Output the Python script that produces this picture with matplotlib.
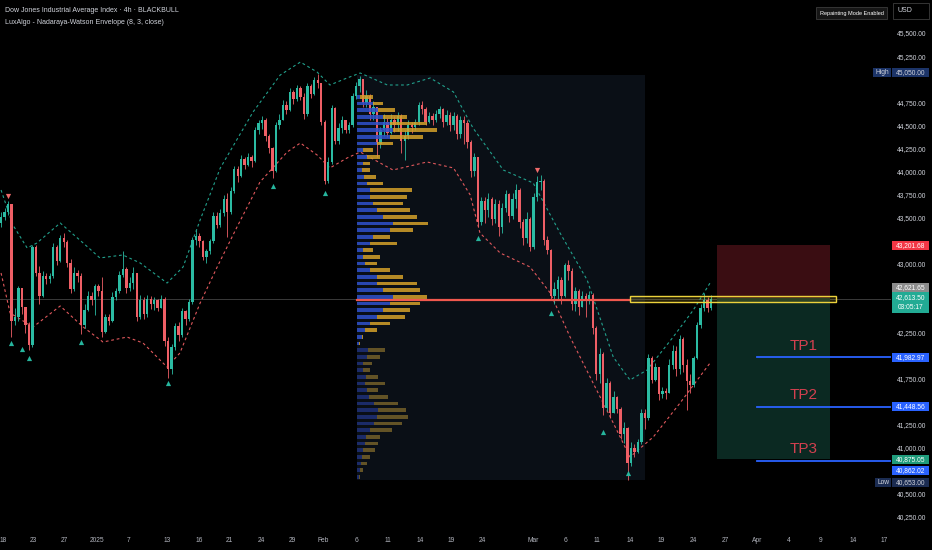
import matplotlib.pyplot as plt
import matplotlib.transforms as mtransforms
from matplotlib.patches import Rectangle

plt.rcParams['font.family'] = ['Liberation Sans', 'DejaVu Sans']

# ---- candles (one bar ~ 1/3 trading day), open = previous close ----
first_open = 43440
closes = [43500, 43560, 43640, 42380, 42420, 42730, 42530, 42330, 42120, 43180,
          42900, 42650, 42860, 42830, 42860, 43180, 43030, 43280, 43230, 43000,
          42720, 42900, 42860, 42330, 42500, 42650, 42600, 42760, 42700, 42260,
          42420, 42380, 42640, 42700, 42880, 42940, 42730, 42790, 42900, 42420,
          42600, 42450, 42620, 42560, 42600, 42520, 42620, 42160, 41850, 42090,
          42320, 42220, 42480, 42400, 42580, 43250, 43300, 43240, 43070, 43130,
          43240, 43520, 43420, 43550, 43700, 43560, 43790, 44020, 43950, 44130,
          44070, 44150, 44110, 44450, 44520, 44560, 44380, 44250, 44000, 44500,
          44560, 44720, 44660, 44860, 44780, 44900, 44810, 44620, 44920, 44840,
          44990, 44960, 44540, 43900, 44100, 44690, 44330, 44470, 44560, 44450,
          44500, 44820, 44920, 45000, 44740, 44820, 44620, 44700, 44300, 44450,
          44540, 44420, 44560, 44500, 44600, 44330, 44380, 44500, 44480, 44530,
          44720, 44680, 44540, 44600, 44560, 44620, 44680, 44540, 44610, 44500,
          44600, 44400, 44560, 44520, 44320, 44000, 44150, 43450, 43680, 43580,
          43700, 43480, 43650, 43400, 43600, 43750, 43520, 43700, 43800, 43450,
          43280, 43480, 43180, 43720, 43880, 43900, 43260, 43150, 42650, 42720,
          42820, 42650, 42980, 42920, 42560, 42700, 42530, 42650, 42590, 42660,
          42300, 41800, 42020, 41430, 41700, 41380, 41550, 41420, 41150, 41220,
          40840, 41000, 40960, 41060, 41380, 41320, 41980, 41740, 41880, 41580,
          41620, 41600, 41900, 42050, 41850, 42180, 41900, 41720, 41680, 41980,
          42330, 42520, 42600, 42520, 42613.5]
highs = [43560, 43600, 43680, 43640, 42520, 42760, 42700, 42480, 42360, 43200,
         43200, 42970, 42920, 42900, 42900, 43220, 43200, 43310, 43330, 43250,
         43050, 42960, 42930, 42900, 42560, 42700, 42690, 42780, 42780, 42850,
         42450, 42450, 42690, 42730, 42920, 43130, 42960, 42850, 42960, 42900,
         42660, 42640, 42660, 42650, 42640, 42620, 42660, 42640, 42200, 42130,
         42350, 42360, 42520, 42500, 42620, 43290, 43360, 43330, 43260, 43160,
         43270, 43560, 43560, 43590, 43740, 43760, 43830, 44060, 44060, 44180,
         44160, 44200, 44180, 44480, 44560, 44600, 44580, 44400, 44260, 44540,
         44620, 44770, 44760, 44900, 44880, 44940, 44920, 44850, 44960, 44950,
         45020, 45050, 44960, 44560, 44150, 44720, 44700, 44520, 44600, 44560,
         44540, 44850, 44970, 45030, 45000, 44880, 44840, 44760, 44620, 44480,
         44620, 44580, 44620, 44600, 44640, 44620, 44450, 44560, 44540, 44570,
         44750, 44760, 44700, 44640, 44630, 44660, 44710, 44690, 44660, 44640,
         44640, 44620, 44600, 44600, 44560, 44340, 44200, 44150, 43720, 43720,
         43760, 43720, 43700, 43690, 43660, 43800, 43760, 43760, 43860, 43820,
         43480, 43560, 43500, 43760, 43950, 43960, 43920, 43300, 43160, 42800,
         42860, 42850, 43010, 43040, 42950, 42740, 42720, 42700, 42680, 42700,
         42680, 42320, 42080, 42040, 41760, 41720, 41620, 41560, 41440, 41280,
         41230, 41060, 41040, 41100, 41420, 41420, 42020, 42000, 41920, 41880,
         41660, 41650, 41960, 42120, 42100, 42220, 42200, 41960, 41800, 42000,
         42360, 42560, 42680, 42640, 42660]
lows = [43400, 43470, 43530, 42200, 42330, 42380, 42450, 42250, 42060, 42090,
        42860, 42560, 42640, 42780, 42790, 42840, 42980, 43020, 43180, 42960,
        42680, 42700, 42800, 42230, 42300, 42480, 42550, 42440, 42650, 42200,
        42250, 42330, 42370, 42600, 42680, 42850, 42680, 42700, 42720, 42380,
        42400, 42400, 42420, 42510, 42500, 42480, 42540, 42100, 41760, 41800,
        42060, 42160, 42200, 42330, 42380, 42560, 43200, 43180, 43040, 43000,
        43100, 43220, 43380, 43400, 43520, 43290, 43540, 43760, 43880, 43940,
        44020, 44060, 44050, 44100, 44400, 44460, 44330, 44200, 43930, 43990,
        44460, 44560, 44620, 44650, 44730, 44760, 44770, 44570, 44600, 44790,
        44830, 44900, 44500, 43860, 43870, 44080, 44300, 44300, 44420, 44410,
        44420, 44480, 44780, 44860, 44700, 44700, 44560, 44560, 44160, 44250,
        44380, 44370, 44400, 44430, 44440, 44200, 44120, 44350, 44420, 44450,
        44500, 44620, 44500, 44520, 44500, 44540, 44580, 44480, 44500, 44440,
        44450, 44350, 44360, 44300, 44250, 43940, 43950, 43400, 43420, 43440,
        43500, 43420, 43440, 43300, 43330, 43560, 43450, 43480, 43600, 43380,
        43200, 43220, 43130, 43160, 43680, 43800, 43200, 43100, 42600, 42560,
        42600, 42560, 42640, 42820, 42500, 42480, 42440, 42540, 42420, 42560,
        42240, 41740, 41700, 41360, 41400, 41320, 41380, 41380, 41100, 41050,
        40653, 40800, 40900, 40940, 41040, 41200, 41300, 41700, 41720, 41520,
        41540, 41530, 41600, 41850, 41780, 41800, 41820, 41410, 41600, 41660,
        41960, 42300, 42480, 42470, 42500]

# ---- Nadaraya-Watson envelope ----
up_x = [0, 3.4, 7.5, 10.3, 17, 23.6, 28.4, 35, 40, 47.7, 52.3, 57.2, 63, 72.4,
        80.2, 86, 90.8, 94.5, 99.4, 103.2, 111, 116.7, 123.3, 130, 135.6, 144.3,
        152.9, 160.6, 168.4, 175.9, 180.7, 185.6, 193.1, 198.9, 203.7]
up_y = [43797, 43418, 43168, 43222, 43439, 43222, 43060, 43092, 43005, 42788,
        42962, 43472, 44036, 44643, 45044, 45185, 45077, 44936, 45012, 45066,
        44936, 44936, 45012, 44860, 44470, 44014, 43873, 43331, 42821, 41985,
        41736, 41844, 42202, 42495, 42788]
lo_x = [0, 2.6, 9.2, 17, 23.6, 29.3, 36.2, 40.8, 47.7, 51.4, 57.2, 62.1, 67.8,
        74.4, 82.2, 86, 90.8, 94.5, 99.4, 103.2, 112.6, 122.4, 130, 134.8, 137.6,
        143.4, 152, 157.8, 163.5, 170.1, 175.9, 180.7, 187.4, 195.1, 203.7]
lo_y = [42897, 42463, 42311, 42539, 42311, 42148, 42202, 42137, 41877, 42029,
        42571, 42962, 43396, 43884, 44209, 44307, 44177, 44036, 44144, 44209,
        44014, 44101, 44036, 43743, 43331, 43114, 42962, 42680, 42202, 41704,
        41270, 40901, 41118, 41487, 41920]
sell_sig_x = [2, 154]
sell_sig_y = [43732, 44014]
buy_sig_x = [3, 6, 8, 23, 48, 78, 93, 137, 158, 173, 180]
buy_sig_y = [42137, 42072, 41974, 42148, 41704, 43840, 43765, 43276, 42463, 41172, 40727]

# ---- volume profile (rows from top) ----
prof_top = 44806
prof_step = 72.3
prof_buy = [3, 16, 21, 26, 33, 36, 33, 20, 6, 10, 6, 5, 7, 10, 13, 13, 16, 20, 26, 36,
            33, 16, 13, 6, 6, 8, 13, 20, 20, 26, 36, 33, 26, 20, 13, 8, 5, 2,
            11, 10, 6, 6, 9, 8, 10, 12, 17, 21, 20, 17, 13, 9, 8, 6, 5, 4, 3, 2]
prof_sell = [13, 10, 17, 24, 37, 44, 33, 16, 10, 13, 7, 8, 12, 16, 42, 37, 30, 33, 34, 35,
             23, 17, 27, 10, 17, 12, 20, 26, 40, 37, 34, 30, 27, 28, 20, 12, 1, 1,
             17, 13, 9, 7, 12, 20, 11, 19, 24, 28, 31, 28, 22, 14, 13, 12, 8, 6, 3, 1]
value_area_low = 42105
poc_price = 42600
range_start, range_end = 102.3, 185.1
range_high, range_low = 45044, 40651

# ---- trade setup ----
entry = 42621.65
stop = 43201.68
target = 40875.05
tp_prices = [41982.97, 41448.56, 40862.02]
tp_names = ['TP1', 'TP2', 'TP3']
last_price = 42613.50
period_high, period_low = 45050.00, 40653.00

price_ticks = list(range(40250, 45501, 250))
hidden_ticks = [45000, 43250, 42750, 42500, 42000, 41500, 40750]  # under price tags
tick_pos = [0.6, 9.2, 18.1, 27.6, 36.5, 47.7, 56.9, 65.5, 74.7, 83.6, 92.5, 102.0,
            111.2, 120.4, 129.3, 138.2, 152.9, 162.1, 171.3, 180.7, 189.7, 198.9,
            208.0, 217.2, 226.4, 235.6, 244.8, 253.7]
tick_lab = ['18', '23', '27', '2025', '7', '13', '16', '21', '24', '29', 'Feb', '6',
            '11', '14', '19', '24', 'Mar', '6', '11', '14', '19', '24', '27', 'Apr',
            '4', '9', '14', '17']

BG = '#000000'
UP = '#2bbba3'
DOWN = '#ef5f66'
TXT = '#d1d4dc'

fig = plt.figure(figsize=(9.32, 5.5), dpi=100, facecolor=BG)
ax = fig.add_axes([0, 23 / 550, 891 / 932, 527 / 550], facecolor=BG)
ax.set_xlim(-0.3, 255.7)
ax.set_ylim(40141.5, 45858)
ppu = 527 / (45858 - 40141.5)  # pixels per price point

# profile background box
ax.add_patch(Rectangle((range_start, range_low), range_end - range_start,
                       range_high - range_low, fc='#0a0f16', ec='none', zorder=0))

# candles
opens = [first_open] + closes[:-1]
idx = list(range(len(closes)))
cols = [UP if c >= o else DOWN for o, c in zip(opens, closes)]
ax.vlines(idx, [min(l, o, c) for o, l, c in zip(opens, lows, closes)],
          [max(h, o, c) for o, h, c in zip(opens, highs, closes)],
          colors=cols, lw=0.6, zorder=3)
ax.bar(idx, [max(abs(c - o), 12) for o, c in zip(opens, closes)],
       bottom=[min(o, c) for o, c in zip(opens, closes)],
       width=0.68, color=cols, lw=0, zorder=3)

# volume profile
levels = [prof_top - k * prof_step for k in range(len(prof_buy))]
unit = 1 / 3.48
buy_cols = ['#2f52cc' if p >= value_area_low else '#1f3178' for p in levels]
sell_cols = ['#d4a12a' if p >= value_area_low else '#74602a' for p in levels]
ax.barh(levels, [b * unit for b in prof_buy], left=range_start, height=40,
        color=buy_cols, lw=0, alpha=0.85, zorder=4)
ax.barh(levels, [s * unit for s in prof_sell],
        left=[range_start + b * unit for b in prof_buy], height=40,
        color=sell_cols, lw=0, alpha=0.85, zorder=4)

# envelope + signals
ax.plot(up_x, up_y, color='#22a08c', lw=0.8, ls=(0, (2.5, 2.5)), zorder=2)
ax.plot(lo_x, lo_y, color='#e0585c', lw=0.8, ls=(0, (2.5, 2.5)), zorder=2)
ax.scatter(sell_sig_x, sell_sig_y, marker='v', s=14, color='#f06a6a', lw=0, zorder=5)
ax.scatter(buy_sig_x, buy_sig_y, marker='^', s=14, color='#26b59d', lw=0, zorder=5)

# last price line, POC, setup
ax.axhline(last_price, color='#3a3a3a', lw=0.7, zorder=1)
ax.plot([range_start, 180.7], [poc_price, poc_price], color='#f0584e', lw=1.6, zorder=5)
ax.add_patch(Rectangle((180.7, 42585), 239.9 - 180.7, 60, fc=(0.95, 0.83, 0.2, 0.15),
                       ec='#ecd23c', lw=1.0, zorder=5))
ax.add_patch(Rectangle((205.7, entry), 32.5, stop - entry, fc='#3a0d12', ec='none', zorder=1))
ax.add_patch(Rectangle((205.7, target), 32.5, entry - target, fc='#0b2922', ec='none', zorder=1))
for p, name in zip(tp_prices, tp_names):
    ax.plot([217.2, 255.7], [p, p], color='#2962ff', lw=1.3, zorder=5)
    ax.text(230.7, p + 45, name, color='#d3404f', fontsize=11, ha='center',
            va='bottom', zorder=6)

# axes styling
for s in ax.spines.values():
    s.set_visible(False)
ax.yaxis.tick_right()
ax.set_yticks(price_ticks)
ax.set_yticklabels(['' if v in hidden_ticks else f'{v:,.2f}' for v in price_ticks])
ax.tick_params(axis='y', colors=TXT, labelsize=4.8, length=0, pad=4.3)
ax.set_xticks(tick_pos, tick_lab)
ax.tick_params(axis='x', colors='#b2b5be', labelsize=4.8, length=0, pad=7)

blend = mtransforms.blended_transform_factory(ax.transAxes, ax.transData)


def price_tag(price, text, fc, dy=0, tc='white', x0=892, x1=929, top=4.5, bottom=4.5):
    tr = mtransforms.offset_copy(blend, fig=fig, x=0, y=dy, units='dots')
    ax.add_patch(Rectangle((x0 / 891, price - bottom / ppu), (x1 - x0) / 891,
                           (top + bottom) / ppu, transform=tr, fc=fc, ec='none',
                           clip_on=False, zorder=7))
    ax.text((x0 + x1) / 2 / 891, price, text, transform=tr, ha='center', va='center',
            fontsize=4.8, color=tc, clip_on=False, zorder=8)


price_tag(period_high, f'{period_high:,.2f}', '#1c3468', dy=1.5, tc=TXT)
price_tag(period_high, 'High', '#1c3468', dy=1.5, tc=TXT, x0=873, x1=891)
price_tag(stop, f'{stop:,.2f}', '#f23645', dy=-1)
price_tag(entry, f'{entry:,.2f}', '#8c8c8c', dy=10.4)
tr_last = mtransforms.offset_copy(blend, fig=fig, x=0, y=-3.3, units='dots')
ax.add_patch(Rectangle((892 / 891, last_price - 10.5 / ppu), 37 / 891, 21 / ppu,
                       transform=tr_last, fc='#22ab94', ec='none', clip_on=False, zorder=7))
ax.text(910.5 / 891, last_price, f'{last_price:,.2f}\n03:05:17', transform=tr_last,
        ha='center', va='center', fontsize=4.8, color='white', linespacing=1.5,
        clip_on=False, zorder=8)
price_tag(tp_prices[0], f'{tp_prices[0]:,.2f}', '#2962ff')
price_tag(tp_prices[1], f'{tp_prices[1]:,.2f}', '#2962ff')
price_tag(target, f'{target:,.2f}', '#1f9c7c')
price_tag(tp_prices[2], f'{tp_prices[2]:,.2f}', '#2962ff', dy=-10.4)
price_tag(period_low, f'{period_low:,.2f}', '#1b2c52', dy=-2.6, tc=TXT)
price_tag(period_low, 'Low', '#1b2c52', dy=-2.6, tc=TXT, x0=875, x1=891)

# header texts
fig.text(5 / 932, 1 - 11 / 550, 'Dow Jones Industrial Average Index · 4h · BLACKBULL',
         color=TXT, fontsize=5, va='center')
fig.text(5 / 932, 1 - 23 / 550, 'LuxAlgo - Nadaraya-Watson Envelope (8, 3, close)',
         color=TXT, fontsize=5, va='center')
fig.text(851.5 / 932, 1 - 13 / 550, 'Repainting Mode Enabled', color='white',
         fontsize=4, ha='center', va='center',
         bbox=dict(boxstyle='square,pad=0.6', fc='#161616', ec='#3c3c3c', lw=0.6))
fig.patches.append(Rectangle((893 / 932, 1 - 19 / 550), 36 / 932, 16 / 550,
                             transform=fig.transFigure, fc=BG, ec='#3c3c3c', lw=0.6))
fig.text(898 / 932, 1 - 11 / 550, 'USD', color=TXT, fontsize=5, va='center')

fig.savefig('out.png', dpi=100, facecolor=BG)
